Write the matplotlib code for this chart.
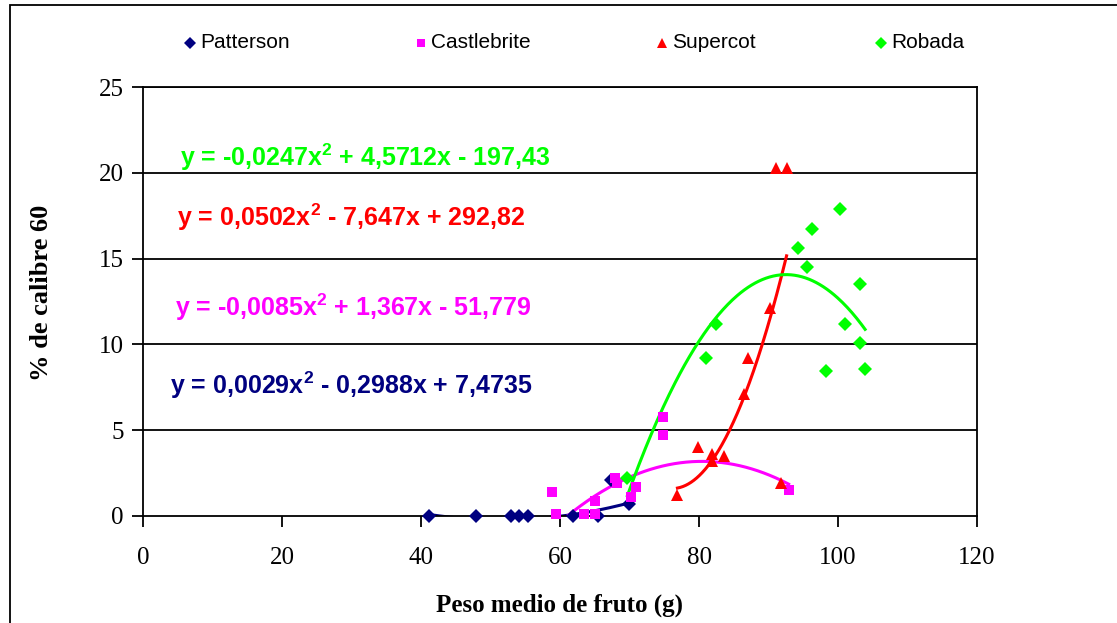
import numpy as np
import matplotlib
matplotlib.use("Agg")
import matplotlib.pyplot as plt
from matplotlib.lines import Line2D
from matplotlib.patches import Rectangle

# superscripts in the equation labels use the same bold sans face
plt.rcParams["mathtext.fontset"] = "custom"
plt.rcParams["mathtext.rm"] = "Liberation Sans:bold"
plt.rcParams["mathtext.it"] = "Liberation Sans:bold"
plt.rcParams["mathtext.bf"] = "Liberation Sans:bold"

# mean fruit weight (g) vs % of calibre 60, per variety
patterson_x = [41.2, 47.9, 53.0, 54.1, 55.4, 61.9, 65.4, 67.3, 69.9]
patterson_y = [0, 0, 0, 0, 0, 0, 0, 2.1, 0.7]

castlebrite_x = [58.8, 59.4, 63.4, 65.1, 65.1, 67.9, 68.2, 70.2, 70.9, 74.8, 74.8, 92.9]
castlebrite_y = [1.4, 0.1, 0.1, 0.9, 0.1, 2.2, 1.9, 1.1, 1.7, 5.75, 4.7, 1.5]

supercot_x = [76.9, 79.8, 81.8, 81.9, 83.6, 86.5, 87.0, 90.2, 91.1, 92.6, 91.8]
supercot_y = [1.2, 4.0, 3.2, 3.6, 3.5, 7.1, 9.2, 12.1, 20.3, 20.3, 1.9]

robada_x = [69.7, 81.0, 82.5, 94.3, 95.5, 96.2, 100.3, 98.3, 101.0, 103.2, 103.2, 103.9]
robada_y = [2.2, 9.2, 11.2, 15.6, 14.5, 16.7, 17.9, 8.45, 11.2, 13.5, 10.1, 8.55]

# quadratic trend coefficients (a, b, c) for y = a x^2 + b x + c
patterson_fit = [0.0029, -0.2988, 7.4735]
castlebrite_fit = [-0.0085, 1.367, -51.779]
supercot_fit = [0.0502, -7.647, 292.82]
robada_fit = [-0.0247, 4.5712, -197.43]

patterson_eq = "y = 0,0029x$^2$ - 0,2988x + 7,4735"
castlebrite_eq = "y = -0,0085x$^2$ + 1,367x - 51,779"
supercot_eq = "y = 0,0502x$^2$ - 7,647x + 292,82"
robada_eq = "y = -0,0247x$^2$ + 4,5712x - 197,43"

x_ticks = [0, 20, 40, 60, 80, 100, 120]
y_ticks = [0, 5, 10, 15, 20, 25]

NAVY = "#000080"
MAGENTA = "#FF00FF"
RED = "#FF0000"
GREEN = "#00FF00"

series = [
    ("Patterson", patterson_x, patterson_y, patterson_fit, NAVY, "D", 7),
    ("Castlebrite", castlebrite_x, castlebrite_y, castlebrite_fit, MAGENTA, "s", 7.5),
    ("Supercot", supercot_x, supercot_y, supercot_fit, RED, "^", 8.5),
    ("Robada", robada_x, robada_y, robada_fit, GREEN, "D", 7),
]

fig = plt.figure(figsize=(11.17, 6.23), dpi=100)
W, H = 1117, 623
ax = fig.add_axes([143 / W, 1 - 516 / H, (977 - 143) / W, (516 - 87) / H])

for y in y_ticks[1:]:
    ax.axhline(y, color="black", lw=1.3, zorder=1)

# trend curves first, markers on top
for name, xs, ys, fit, col, mk, ms in series:
    xx = np.linspace(min(xs), max(xs), 200)
    ax.plot(xx, np.polyval(fit, xx), color=col, lw=2.2, zorder=2)
for name, xs, ys, fit, col, mk, ms in series:
    ax.plot(xs, ys, linestyle="none", marker=mk, ms=ms, color=col,
            markeredgewidth=0, zorder=3, clip_on=False)

ax.set_xlim(0, 120)
ax.set_ylim(0, 25)
ax.set_xticks(x_ticks)
ax.set_yticks(y_ticks)
for s in ax.spines.values():
    s.set_linewidth(1.3)
ax.tick_params(direction="out", length=8, width=1.3, labelsize=18, pad=6)
ax.tick_params(axis="x", pad=14)
for lab in ax.get_xticklabels() + ax.get_yticklabels():
    lab.set_fontfamily("Liberation Serif")

ax.set_xlabel("Peso medio de fruto (g)", fontfamily="Liberation Serif",
              fontweight="bold", fontsize=18, labelpad=18)
fig.text(42 / W, 1 - 293 / H, "% de calibre 60", rotation=90,
         fontfamily="Liberation Serif", fontweight="bold", fontsize=19,
         ha="center", va="center")

# equation labels
eq_pos = [(robada_eq, GREEN, 180, 157), (supercot_eq, RED, 177, 217),
          (castlebrite_eq, MAGENTA, 175, 307), (patterson_eq, NAVY, 170, 385)]
for txt, col, px, py in eq_pos:
    fig.text(px / W, 1 - py / H, txt, color=col, fontsize=18,
             fontfamily="Liberation Sans", fontweight="bold",
             ha="left", va="center")

# legend row above the plot
leg_x = [190, 421, 662, 881]
for (name, xs, ys, fit, col, mk, ms), lx in zip(series, leg_x):
    fig.add_artist(Line2D([lx / W], [1 - 43 / H], marker=mk, ms=ms * 0.85,
                          color=col, markeredgewidth=0, linestyle="none",
                          transform=fig.transFigure))
    fig.text((lx + 10) / W, 1 - 43 / H, name, fontsize=15,
             fontfamily="Liberation Sans", ha="left", va="center")

# outer chart border
fig.add_artist(Rectangle((10 / W, -0.05), 1.2, 1 - 5 / H + 0.05,
                         transform=fig.transFigure, fill=False,
                         edgecolor="black", lw=1.3))

fig.savefig("out.png", dpi=100)
